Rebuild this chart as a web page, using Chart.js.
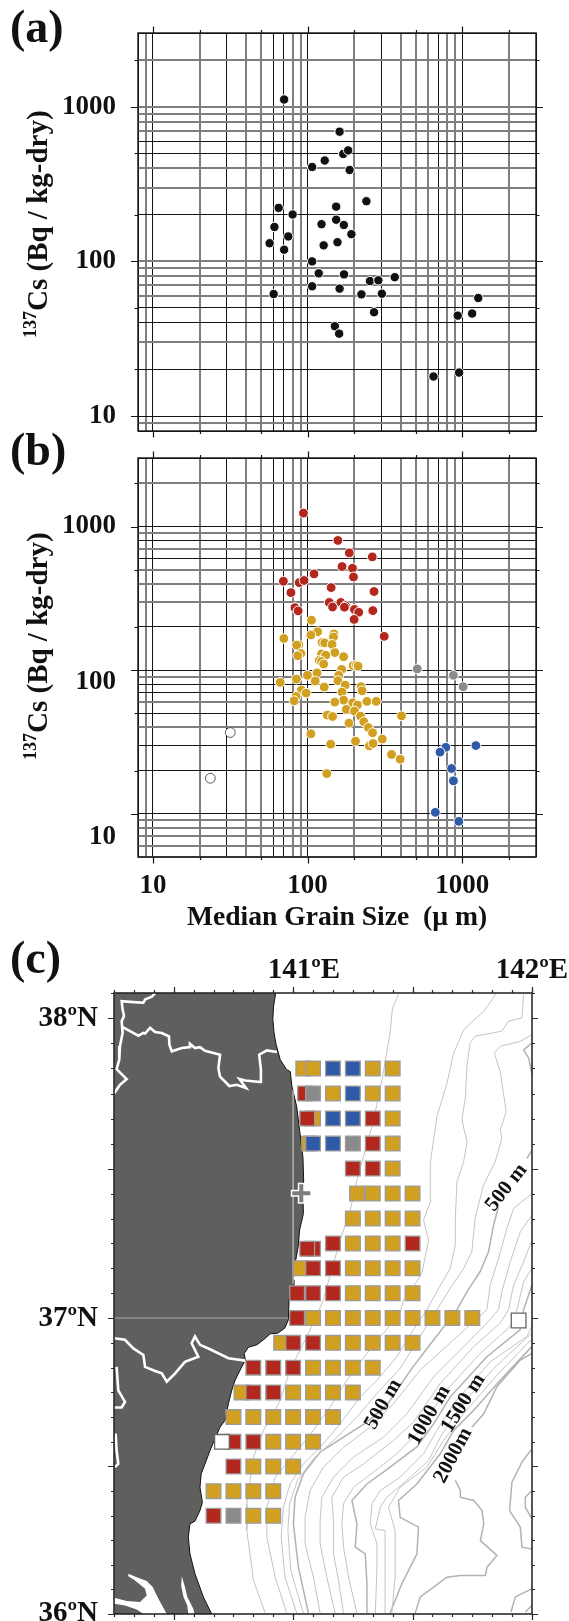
<!DOCTYPE html>
<html><head><meta charset="utf-8">
<style>
html,body{margin:0;padding:0;background:#fff;width:569px;height:1621px;overflow:hidden}
canvas{position:absolute;left:0}
#ca{top:0}#cb{top:420px}#cc{top:930px}
</style>
<script src="https://cdn.jsdelivr.net/npm/chart.js@4/dist/chart.umd.js"></script>
</head><body>
<canvas id="ca" width="569" height="445"></canvas>
<canvas id="cb" width="569" height="520"></canvas>
<canvas id="cc" width="569" height="691"></canvas>
<script>
/* ---------- panel (a) ---------- */
const aGrain=[70.5,161,170,183,107,129,187,240,153,65,80,153,123,171.5,61,192,75,156,56.8,127,70.5,107,118,172,366,253,287,107,161,60.3,223,302,1270,1159,935,269,150,160,652,955];
const aCs=[1114,690,495,522,408,449,390,245,226,222,201,186,174,172,167,150,145,133,131,127,119,100,83.7,82.4,79,74.6,75.4,69,66.7,61.5,61.2,61.8,58,46,44.6,46.9,38.1,34.1,18,19.1];
/* ---------- panel (b) ---------- */
const redGrain=[94,157,186,262,167,195,110,198,69.7,88.3,94.9,142,78,269,138,164,176,173,145,82.8,86.9,201,214,264,200,313];
const redCs=[1219,813,676,637,552,538,495,473,444,435,449,404,375,381,324,324,309,302,303,300,286,292,280,287,252,196];
const yellowGrain=[106,116,105,70.2,148,147,124,129,144,87.7,85,90.4,86.4,150,171,123,131,119,123,127,197,207,212,166,115,99.7,84.7,66.5,112,159,157,175,128,222,225,167,91.2,97.8,84.3,81.8,171,150,196,210,242,278,178,201,220,134,145,405,185,231,247,263,105,304,141,204,251,265,349,397,133];
const yellowCs=[249,210,200,190,203,194,179,178,174,173,172,152,147,154,145,151,148,137,135,130,127,128,126,120,114,110,104,99,101,110,101.5,95,92.4,92.9,87.5,85.8,88.3,84.5,80.4,75.4,76.1,73.9,73.2,70.7,74.7,74.7,66.3,64.7,60,61,59.7,60.3,54.1,55.2,50.7,46.9,46.2,42.7,39.6,41.4,38.6,40,34,31.7,25.6];
const grayGrain=[512,877,1014];
const grayCs=[121,110,92.9];
const openGrain=[31.6,23.5];
const openCs=[47.1,23.9];
const blueGrain=[783,718,1225,853,877,670,950];
const blueCs=[37.8,35.2,38.8,27.6,23,14.4,12.6];
/* ---------- axes ---------- */
const gridGrain=[8,9,10,20,30,40,50,60,70,80,90,100,200,300,400,500,600,700,800,900,1000,2000,3000];
const grainGrayLines=[9,20,40,50,80,90,200,400,500,600,800,900,2000];
const gridCsA=[8,9,10,20,30,40,50,60,70,80,90,100,200,300,400,500,600,700,800,900,1000,2000,3000];
const csAGrayLines=[9,30,60,70,80,90,100,300,400,700,800,900,1000,2000];
const gridCsB=[5,6,7,8,9,10,20,30,40,50,60,70,80,90,100,200,300,400,500,600,700,800,900,1000,2000,3000];
const csBGrayLines=[5,6,7,8,9,40,60,90,300,400,500,700,900,2000];
const decadeLabels=[10,100,1000];
const tickMinor=[20,50,200,500,2000];
/* ---------- panel (c) stations, one row per latitude ---------- */
const stationLats=[37.8333,37.75,37.6667,37.5833,37.5,37.4167,37.3333,37.25,37.232,37.1667,37.0833,37,36.992,36.9167,36.8333,36.75,36.6667,36.5833,36.5,36.4167,36.3333];
const stationLons=[
[141.0426,141.0833,141.1667,141.25,141.3333,141.4167],
[141.05,141.0833,141.1667,141.25,141.3333,141.4167],
[141.0833,141.059,141.1667,141.25,141.3333,141.4167],
[141.067,141.0833,141.1667,141.25,141.3333,141.4167],
[141.25,141.3333,141.4167],
[141.2675,141.3333,141.4167,141.5],
[141.25,141.3333,141.4167,141.5],
[141.1667,141.25,141.3333,141.4167,141.5],
[141.0833,141.059],
[141.032,141.0833,141.1667,141.25,141.3333,141.4167,141.5],
[141.0167,141.0833,141.1667,141.25,141.3333,141.4167,141.5],
[141.0833,141.0167,141.1667,141.25,141.3333,141.4167,141.5,141.5833,141.6667,141.75],
[141.944],
[140.95,141,141.0833,141.1667,141.25,141.3333,141.4167,141.5],
[140.8333,140.9167,141,141.0833,141.1667,141.25,141.3333],
[140.784,140.8333,140.9167,141,141.0833,141.1667,141.25],
[140.75,140.8333,140.9167,141,141.0833,141.1667],
[140.75,140.702,140.8333,140.9167,141,141.0833],
[140.75,140.8333,140.9167,141],
[140.6667,140.75,140.8333,140.9167],
[140.6667,140.75,140.8333,140.9167]];
const stationKinds=['YYBBYY','RGYBYY','YRBBRY','YBBGRY','RRY','YYYY','YYYY','RYYYR','RR','YRRYYYY','RRRYYYY','YRYYYYYYYY','W','YRRYYYYY','RRRYYYY','YRRYYYY','YYYYYY','RWRYYY','RYYY','YYYY','RGYY'];
const plantSite=[[141.034,37.418]];
/* ---------- panel (c) land ---------- */
const landOutline=[[140.25,38.0833],[140.927,38.0833],[140.918,38.04],[140.915,37.996],[140.92,37.951],[140.929,37.912],[140.946,37.862],[140.973,37.829],[140.988,37.823],[140.995,37.773],[141.015,37.706],[141.027,37.628],[141.041,37.539],[141.044,37.462],[141.041,37.406],[141.043,37.35],[141.027,37.295],[141.021,37.239],[141.011,37.195],[141,37.128],[141.003,37.113],[140.983,37.062],[140.98,36.994],[140.965,36.966],[140.935,36.949],[140.904,36.947],[140.876,36.927],[140.848,36.91],[140.813,36.902],[140.795,36.881],[140.8,36.859],[140.778,36.825],[140.757,36.791],[140.743,36.757],[140.729,36.712],[140.715,36.656],[140.694,36.633],[140.673,36.594],[140.652,36.554],[140.631,36.509],[140.615,36.475],[140.61,36.43],[140.62,36.379],[140.61,36.351],[140.589,36.315],[140.568,36.306],[140.561,36.261],[140.568,36.204],[140.589,36.137],[140.624,36.058],[140.659,36],[140.25,36]];
const inletNorth=[[140.31,36.137],[140.345,36.125],[140.387,36.112],[140.412,36.092],[140.436,36.052],[140.471,36],[140.373,36],[140.345,36.015],[140.296,36.029],[140.251,36.035],[140.251,36.055],[140.303,36.044],[140.359,36.041],[140.387,36.063],[140.38,36.086],[140.338,36.114],[140.31,36.128]];
const inletSouth=[[140.534,36.128],[140.547,36.092],[140.557,36.058],[140.582,36.018],[140.587,36],[140.561,36],[140.557,36.029],[140.541,36.058],[140.531,36.097]];
const borderA=[[140.422,38.082],[140.408,38.071],[140.38,38.062],[140.373,38.051],[140.331,38.053],[140.282,38.056],[140.286,38.029],[140.292,38.007],[140.282,37.99],[140.286,37.951],[140.275,37.907],[140.272,37.862],[140.261,37.831],[140.303,37.798],[140.275,37.779],[140.251,37.751]];
const borderB=[[140.284,37.971],[140.317,37.957],[140.352,37.942],[140.373,37.951],[140.38,37.949],[140.401,37.968],[140.422,37.954],[140.45,37.951],[140.48,37.94],[140.482,37.912],[140.492,37.89],[140.534,37.901],[140.566,37.904],[140.568,37.915],[140.589,37.901],[140.61,37.904],[140.631,37.892],[140.694,37.879],[140.687,37.834],[140.694,37.806],[140.733,37.775],[140.764,37.779],[140.803,37.768],[140.775,37.798],[140.799,37.793],[140.862,37.788],[140.865,37.829],[140.858,37.879],[140.89,37.893],[140.932,37.888]];
const borderC=[[140.251,36.932],[140.296,36.927],[140.331,36.898],[140.373,36.876],[140.38,36.836],[140.422,36.822],[140.45,36.814],[140.471,36.786],[140.506,36.814],[140.547,36.853],[140.603,36.87],[140.575,36.915],[140.589,36.938],[140.61,36.91],[140.652,36.895],[140.729,36.865],[140.799,36.857]];
const borderD=[[140.261,36.836],[140.268,36.757],[140.296,36.718],[140.282,36.699],[140.251,36.699]];
const borderE=[[140.257,36.611],[140.261,36.554],[140.268,36.509],[140.254,36.498]];
const gratLat37=[[140.25,37],[140.98,37]];
const gratLon141=[[141,37.762],[141,37.115]];
/* ---------- panel (c) bathymetric contours ---------- */
const contour1=[[141.441,38.079],[141.416,38.034],[141.406,37.951],[141.372,37.795],[141.337,37.662],[141.302,37.562],[141.267,37.462],[141.239,37.361],[141.197,37.261],[141.16,37.16],[141.127,37.062],[141.071,36.96],[140.987,36.825],[140.946,36.723],[140.876,36.622],[140.834,36.532],[140.806,36.374],[140.806,36.283],[140.834,36.114],[140.883,36.003]];
const contour2=[[140.973,36.003],[140.925,36.125],[140.89,36.261],[140.89,36.362],[140.925,36.464],[140.994,36.532],[141.064,36.599],[141.155,36.701],[141.225,36.791],[141.309,36.881],[141.378,36.949],[141.448,37.017],[141.462,37.061],[141.504,37.106],[141.539,37.15],[141.567,37.261],[141.546,37.328],[141.577,37.395],[141.574,37.517],[141.602,37.673],[141.644,37.784],[141.672,37.884],[141.714,37.962],[141.798,38.023],[141.839,38.068],[141.85,38.083]];
const contour3=[[141.015,36.003],[140.966,36.125],[140.95,36.261],[140.959,36.362],[140.987,36.441],[141.043,36.509],[141.113,36.565],[141.197,36.644],[141.281,36.735],[141.351,36.791],[141.434,36.87],[141.504,36.961],[141.56,37.028],[141.602,37.089],[141.658,37.167],[141.679,37.245],[141.679,37.334],[141.686,37.456],[141.714,37.523],[141.728,37.59],[141.714,37.634],[141.707,37.667],[141.721,37.734],[141.728,37.845],[141.741,37.918],[141.762,37.94],[141.874,37.957],[141.902,37.99],[141.958,38.001],[141.965,38.079]];
const contour4=[[141.043,36.003],[140.99,36.148],[140.978,36.283],[140.985,36.374],[141.018,36.453],[141.085,36.526],[141.169,36.588],[141.267,36.667],[141.351,36.746],[141.448,36.831],[141.532,36.938],[141.602,37.028],[141.658,37.1],[141.714,37.167],[141.748,37.222],[141.762,37.334],[141.797,37.445],[141.846,37.523],[141.874,37.601],[141.867,37.628],[141.892,37.69],[141.867,37.823],[141.842,37.884],[141.867,37.907],[141.951,37.923],[142,37.945]];
const contour500=[[141.064,36.003],[141.022,36.159],[141.001,36.306],[141.008,36.396],[141.043,36.475],[141.113,36.549],[141.211,36.599],[141.309,36.65],[141.392,36.707],[141.497,36.831],[141.588,36.926],[141.686,37.028],[141.728,37.089],[141.783,37.156],[141.818,37.222],[141.839,37.311],[141.86,37.373]];
const contour500b=[[141.979,37.534],[142,37.562]];
const contour6=[[141.113,36.003],[141.085,36.125],[141.05,36.238],[141.05,36.328],[141.071,36.419],[141.127,36.498],[141.211,36.565],[141.323,36.633],[141.42,36.712],[141.532,36.825],[141.672,36.927],[141.811,37.028],[141.825,37.111],[141.86,37.2],[141.895,37.3],[141.923,37.367],[142,37.417]];
const contour7=[[141.176,36.003],[141.141,36.125],[141.113,36.238],[141.113,36.317],[141.12,36.396],[141.169,36.464],[141.253,36.532],[141.378,36.599],[141.476,36.678],[141.588,36.802],[141.728,36.915],[141.811,36.983],[141.86,37.028],[141.874,37.089],[141.909,37.189],[141.951,37.289],[142,37.345]];
const contour8=[[141.211,36.003],[141.19,36.114],[141.169,36.204],[141.169,36.317],[141.162,36.396],[141.211,36.464],[141.295,36.509],[141.42,36.588],[141.504,36.65],[141.616,36.78],[141.756,36.904],[141.867,36.983],[141.902,37.028],[141.923,37.111],[141.965,37.189],[142,37.261]];
const contour9=[[141.267,36.003],[141.232,36.125],[141.211,36.227],[141.204,36.306],[141.211,36.374],[141.253,36.43],[141.309,36.464],[141.434,36.543],[141.518,36.611],[141.63,36.746],[141.784,36.882],[141.909,36.972],[141.937,37.028],[141.965,37.122],[142,37.167]];
const contour10=[[141.309,36.003],[141.309,36.103],[141.302,36.204],[141.26,36.227],[141.267,36.306],[141.246,36.385],[141.309,36.441],[141.406,36.498],[141.518,36.566],[141.588,36.644],[141.658,36.735],[141.811,36.87],[141.95,36.96],[141.965,37.028],[142,37.111]];
const contour11=[[141.344,36.003],[141.351,36.159],[141.351,36.238],[141.323,36.306],[141.33,36.374],[141.365,36.419],[141.448,36.464],[141.546,36.543],[141.602,36.622],[141.672,36.712],[141.825,36.853],[141.979,36.938],[142,36.975]];
const contour12=[[141.385,36.003],[141.385,36.283],[141.344,36.289],[141.365,36.362],[141.392,36.396],[141.476,36.453],[141.567,36.52],[141.616,36.599],[141.693,36.695],[141.839,36.83],[142,36.95]];
const contour13=[[141.413,36.003],[141.427,36.125],[141.427,36.283],[141.399,36.362],[141.448,36.43],[141.56,36.498],[141.63,36.588],[141.714,36.678],[141.853,36.808],[142,36.93]];
const contour1500=[[141.406,36.003],[141.455,36.103],[141.518,36.204],[141.525,36.295],[141.448,36.328],[141.441,36.385],[141.518,36.441],[141.616,36.543],[141.672,36.622],[141.756,36.69],[141.867,36.791],[142,36.905]];
const contour2000a=[[142,36.881],[141.951,36.859],[141.853,36.769],[141.798,36.678],[141.749,36.633]];
const contour2000b=[[141.679,36.453],[141.7,36.419],[141.7,36.396],[141.756,36.385],[141.791,36.351],[141.798,36.306],[141.784,36.249],[141.853,36.199],[141.812,36.159],[141.805,36.131],[141.7,36.131],[141.644,36.125],[141.588,36.091],[141.532,36.058],[141.511,36.003]];
const contourEast1=[[142,36.56],[141.958,36.515],[141.916,36.447],[141.906,36.351],[141.951,36.295],[141.958,36.227],[142,36.221]];
const contourEast2=[[142,36.419],[141.972,36.396],[141.972,36.362],[142,36.323]];
const contourEast3=[[142,36.086],[141.93,36.058],[141.912,36.007]];
const contourEast4=[[142,36.03],[141.972,36.007]];
const contourEast5=[[142,37.918],[141.965,37.895],[141.986,37.868],[142,37.812]];

/* ---------- helpers ---------- */
const SERIF='"Liberation Serif","Times New Roman",serif';
const zip=(xs,ys)=>xs.map((x,i)=>({x,y:ys[i]}));
const pairs=a=>a.map(p=>({x:p[0],y:p[1]}));
const DARK='#141414', MID='#7f7f7f';
const fitBox=(w,h)=>s=>{
  if(w!==null)s.width=w;
  if(h!==null)s.height=h;
  s.paddingLeft=s.paddingRight=s.paddingTop=s.paddingBottom=0;
};

class MercatorScale extends Chart.LinearScale{
  static id='mercator';
  static defaults=Chart.LinearScale.defaults;
  _m(v){return Math.log(Math.tan(Math.PI/4+v*Math.PI/360));}
  getPixelForValue(v){
    const a=this._m(this.min),b=this._m(this.max);
    return this.bottom-(this._m(v)-a)/(b-a)*(this.bottom-this.top);
  }
  getValueForPixel(p){
    const a=this._m(this.min),b=this._m(this.max);
    const m=a+(this.bottom-p)/(this.bottom-this.top)*(b-a);
    return (Math.atan(Math.exp(m))-Math.PI/4)*360/Math.PI;
  }
}
Chart.register(MercatorScale);

const decor={id:'decor',afterDatasetsDraw(chart,_,o){
  const c=chart.ctx,a=chart.chartArea;
  c.save();
  c.strokeStyle=o.tickColor||DARK;c.lineWidth=1.2;
  (o.ticks||[]).forEach(t=>{
    const s=chart.scales[t.scale];
    t.values.forEach(v=>{
      const p=Math.round(s.getPixelForValue(v))+0.5;
      c.beginPath();
      if(s.isHorizontal()){
        c.moveTo(p,a.top-t.len);c.lineTo(p,a.top);c.moveTo(p,a.bottom);c.lineTo(p,a.bottom+t.len);
      }else{
        c.moveTo(a.left-t.len,p);c.lineTo(a.left,p);c.moveTo(a.right,p);c.lineTo(a.right+t.len,p);
      }
      c.stroke();
    });
  });
  c.strokeStyle=o.frameColor||DARK;c.lineWidth=o.frameWidth||1.4;
  c.strokeRect(a.left,a.top,a.right-a.left,a.bottom-a.top);
  c.fillStyle='#111';
  (o.texts||[]).forEach(t=>{
    c.save();c.translate(t.x,t.y);c.rotate((t.angle||0)*Math.PI/180);
    c.textAlign=t.align||'left';c.textBaseline='alphabetic';
    if(t.sup){
      c.font='bold '+t.supSize+'px '+SERIF;c.fillText(t.sup,0,-t.supRise);
      const w=c.measureText(t.sup).width;
      c.font='bold '+t.size+'px '+SERIF;c.fillText(t.text,w,0);
    }else{
      c.font='bold '+t.size+'px '+SERIF;c.fillText(t.text,0,0);
    }
    c.restore();
  });
  c.restore();
}};

const dots=(data,color,border,order,radius)=>({data,backgroundColor:color,borderColor:border||'#fff',borderWidth:1,pointRadius:radius||4.9,order});
const logGrid=(values,gray)=>({
  type:'logarithmic',
  afterBuildTicks:s=>{s.ticks=values.map(value=>({value}));},
  grid:{display:true,drawTicks:false,
    color:c=>gray.includes(c.tick&&c.tick.value)?MID:DARK,
    lineWidth:c=>gray.includes(c.tick&&c.tick.value)?2:1},
  border:{display:false}
});
const logTickSpecs=(y)=>[
  {scale:'x',values:decadeLabels,len:6.5},{scale:'x',values:tickMinor,len:3},
  {scale:y,values:decadeLabels,len:7},{scale:y,values:tickMinor,len:3.5}
];
const labelTicks={display:true,autoSkip:false,maxRotation:0,minRotation:0,color:'#111',font:{family:SERIF,weight:'bold',size:27}};
const base={responsive:false,animation:false,devicePixelRatio:1,events:[],
  plugins:{legend:{display:false},tooltip:{enabled:false}}};

/* (a) */
new Chart(document.getElementById('ca'),{
  type:'scatter',
  data:{datasets:[dots(zip(aGrain,aCs),'#111','#fff',1,4.7)]},
  plugins:[decor],
  options:{...base,layout:{autoPadding:false,padding:{top:33,right:33,bottom:0,left:0}},
    plugins:{...base.plugins,decor:{
      ticks:logTickSpecs('y'),
      texts:[{text:'(a)',x:10,y:42,size:46},
             {sup:'137',supSize:18,supRise:11,text:'Cs (Bq / kg-dry)',size:29,x:47,y:338,angle:-90}]}},
    scales:{
      x:{...logGrid(gridGrain,grainGrayLines),position:'bottom',min:8,max:3000,ticks:{display:false},afterFit:fitBox(null,14)},
      y:{...logGrid(gridCsA,csAGrayLines),min:8,max:3000,
        ticks:{...labelTicks,padding:22,callback:v=>decadeLabels.includes(v)?String(v):''},afterFit:fitBox(138,null)}
    }}
});

/* (b) */
new Chart(document.getElementById('cb'),{
  type:'scatter',
  data:{datasets:[
    dots(zip(redGrain,redCs),'#b3281e','#fff',3),
    dots(zip(yellowGrain,yellowCs),'#d2a021','#fff',2),
    dots(zip(grayGrain,grayCs),'#8a8a8a','#fff',2),
    dots(zip(openGrain,openCs),'#fff','#555',2),
    dots(zip(blueGrain,blueCs),'#2f5aa8','#fff',2)
  ].map(d=>({...d,yAxisID:'yCs'}))},
  plugins:[decor],
  options:{...base,layout:{autoPadding:false,padding:{top:38,right:33,bottom:0,left:0}},
    plugins:{...base.plugins,decor:{
      ticks:logTickSpecs('y'),
      texts:[{text:'(b)',x:10,y:45,size:46},
             {sup:'137',supSize:18,supRise:11,text:'Cs (Bq / kg-dry)',size:29,x:47,y:340,angle:-90}]}},
    scales:{
      x:{...logGrid(gridGrain,grainGrayLines),position:'bottom',min:8,max:3000,
        ticks:{...labelTicks,padding:13,callback:v=>decadeLabels.includes(v)?String(v):''},
        title:{display:true,text:'Median Grain Size  (\u00b5 m)',color:'#111',font:{family:SERIF,weight:'bold',size:27.6},padding:{top:0,bottom:6}},
        afterFit:fitBox(null,83)},
      y:{...logGrid(gridCsB,csBGrayLines),position:'left',min:5,max:3000,ticks:{display:false},afterFit:fitBox(0,null)},
      yCs:{type:'logarithmic',position:'left',min:7.43,max:2762,
        afterBuildTicks:s=>{s.ticks=decadeLabels.map(value=>({value}));},
        grid:{display:false,drawTicks:false},border:{display:false},
        ticks:{...labelTicks,padding:22,callback:v=>String(v)},afterFit:fitBox(138,null)}
    }}
});

/* (c) */
const kindColor={Y:'#d2a021',R:'#b3281e',B:'#2f5aa8',G:'#8a8a8a',W:'#ffffff'};
const stationPoints=[],stationFill=[],stationEdge=[];
stationLats.forEach((lat,r)=>stationLons[r].forEach((lon,i)=>{
  const k=stationKinds[r][i];
  stationPoints.push({x:lon,y:lat});stationFill.push(kindColor[k]);stationEdge.push(k==='W'?'#666':'#9b9b9b');
}));
const line=(pts,color,width,order)=>({data:pairs(pts),showLine:true,pointRadius:0,borderColor:color,borderWidth:width,tension:0,fill:false,order});
const poly=(pts,color,edge,order)=>({data:pairs(pts),showLine:true,pointRadius:0,borderColor:edge,borderWidth:edge==='#111'?1:0,tension:0,fill:'shape',backgroundColor:color,order});
const THIN='#c4c4c4',THICK='#b2b2b2';
const thinContours=[contour1,contour2,contour3,contour4,contour6,contour7,contour8,contour9,contour11,contour12,contour13];
const thickContours=[contour500,contour500b,contour10,contour1500,contour2000a,contour2000b,contourEast1,contourEast2,contourEast3,contourEast4,contourEast5];
const xMinor=[],yMinor=[];
for(let k=0;k<=21;k++)xMinor.push(140.25+k/12);
for(let k=0;k<=25;k++)yMinor.push(36+k/12);
new Chart(document.getElementById('cc'),{
  type:'scatter',
  data:{datasets:[
    {data:stationPoints,pointStyle:'rect',pointRadius:10.4,backgroundColor:stationFill,borderColor:stationEdge,borderWidth:1.3,order:3},
    {data:pairs(plantSite),pointStyle:'cross',pointRadius:9,borderColor:'#7d7d7d',borderWidth:4,order:1},
    {data:pairs(plantSite),pointStyle:'cross',pointRadius:10.5,borderColor:'#fff',borderWidth:7,order:2},
    line(gratLat37,'#a9a9a9',1,7),line(gratLon141,'#a9a9a9',1,7),
    line(borderA,'#fff',2.6,6),line(borderB,'#fff',2.6,6),line(borderC,'#fff',2.6,6),line(borderD,'#fff',2.6,6),line(borderE,'#fff',2.6,6),
    poly(inletNorth,'#fff','#fff',8),poly(inletSouth,'#fff','#fff',8),
    poly(landOutline,'#5f5f5e','#111',9),
    ...thinContours.map(c=>line(c,THIN,1,10)),
    ...thickContours.map(c=>line(c,THICK,1.5,10))
  ]},
  plugins:[decor],
  options:{...base,layout:{autoPadding:false,padding:{top:0,right:37,bottom:7,left:0}},
    plugins:{...base.plugins,decor:{
      frameColor:'#2b2b2b',frameWidth:1.6,tickColor:'#2b2b2b',
      ticks:[{scale:'x',values:xMinor,len:3},{scale:'y',values:yMinor,len:3},
             {scale:'x',values:[140.5,141,141.5,142],len:6},{scale:'y',values:[36,36.5,37,37.5,38],len:6}],
      texts:[{text:'(c)',x:10,y:43,size:46},
        {text:'500 m',x:510.7,y:261,angle:-52,size:21,align:'center'},
        {text:'500 m',x:388,y:477,angle:-60,size:21,align:'center'},
        {text:'1000 m',x:434,y:488,angle:-60,size:21,align:'center'},
        {text:'1500 m',x:468,y:476,angle:-58,size:21,align:'center'},
        {text:'2000m',x:458,y:528,angle:-62,size:21,align:'center'}]}},
    scales:{
      x:{type:'linear',position:'top',min:140.25,max:142,bounds:'data',
        afterBuildTicks:s=>{s.ticks=[141.045,142].map(value=>({value}));},
        grid:{display:false,drawTicks:false},border:{display:false},
        ticks:{...labelTicks,font:{family:SERIF,weight:'bold',size:29},padding:5,callback:v=>Math.floor(v)+'\u00baE'},
        afterFit:fitBox(null,63)},
      y:{type:'mercator',min:36,max:38.0833,bounds:'data',
        afterBuildTicks:s=>{s.ticks=[36,37,38].map(value=>({value}));},
        grid:{display:false,drawTicks:false},border:{display:false},
        ticks:{...labelTicks,font:{family:SERIF,weight:'bold',size:29},padding:16,callback:v=>v+'\u00baN'},
        afterFit:fitBox(114,null)}
    }}
});
</script>
</body></html>
